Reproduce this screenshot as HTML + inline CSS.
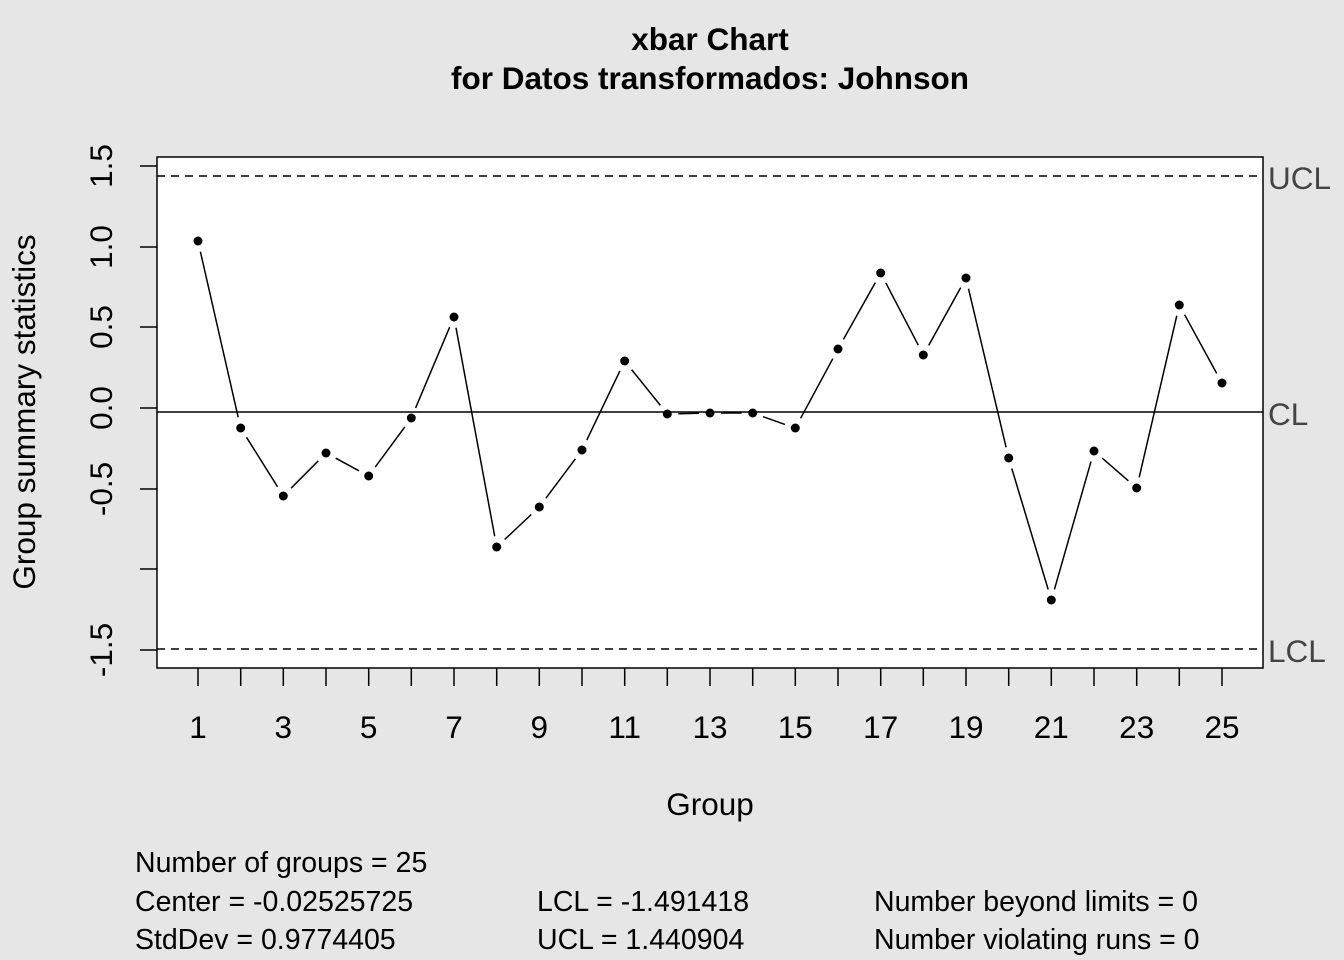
<!DOCTYPE html>
<html><head><meta charset="utf-8"><style>body{margin:0;background:#e6e6e6}svg{display:block}</style></head><body>
<svg width="1344" height="960" xmlns="http://www.w3.org/2000/svg" font-family="Liberation Sans, Arial, sans-serif">
<rect width="1344" height="960" fill="#e6e6e6"/>
<text x="710" y="50" font-size="31.5" font-weight="bold" text-anchor="middle">xbar Chart</text>
<text x="710" y="89" font-size="31.5" font-weight="bold" text-anchor="middle">for Datos transformados: Johnson</text>
<rect x="157" y="157" width="1106" height="511" fill="#fff" stroke="#000" stroke-width="1.5"/>
<g stroke="#000" stroke-width="1.5">
<line x1="157" y1="176" x2="1263" y2="176" stroke-dasharray="8,6"/>
<line x1="157" y1="649" x2="1263" y2="649" stroke-dasharray="8,6"/>
<line x1="157" y1="412" x2="1263" y2="412"/>
</g>
<g fill="#444" font-size="31.5">
<text x="1268" y="189">UCL</text><text x="1268" y="425">CL</text><text x="1268" y="662">LCL</text>
</g>
<g stroke="#000" stroke-width="1.5">
<line x1="140" y1="166" x2="157" y2="166"/><line x1="140" y1="247" x2="157" y2="247"/><line x1="140" y1="327" x2="157" y2="327"/><line x1="140" y1="408" x2="157" y2="408"/><line x1="140" y1="489" x2="157" y2="489"/><line x1="140" y1="569" x2="157" y2="569"/><line x1="140" y1="650" x2="157" y2="650"/>
</g>
<g font-size="31.5" text-anchor="middle">
<text transform="translate(112,166) rotate(-90)">1.5</text>
<text transform="translate(112,247) rotate(-90)">1.0</text>
<text transform="translate(112,327) rotate(-90)">0.5</text>
<text transform="translate(112,408) rotate(-90)">0.0</text>
<text transform="translate(112,489) rotate(-90)">-0.5</text>
<text transform="translate(112,650) rotate(-90)">-1.5</text>
<text transform="translate(35,412) rotate(-90)">Group summary statistics</text>
<text x="710" y="815">Group</text>
<text x="198" y="738">1</text><text x="283.3" y="738">3</text><text x="368.7" y="738">5</text><text x="454" y="738">7</text><text x="539.3" y="738">9</text><text x="624.7" y="738">11</text><text x="710" y="738">13</text><text x="795.3" y="738">15</text><text x="880.7" y="738">17</text><text x="966" y="738">19</text><text x="1051.3" y="738">21</text><text x="1136.7" y="738">23</text><text x="1222" y="738">25</text>
</g>
<g stroke="#000" stroke-width="1.5">
<line x1="198" y1="668" x2="198" y2="686"/><line x1="240.7" y1="668" x2="240.7" y2="686"/><line x1="283.3" y1="668" x2="283.3" y2="686"/><line x1="326" y1="668" x2="326" y2="686"/><line x1="368.7" y1="668" x2="368.7" y2="686"/><line x1="411.3" y1="668" x2="411.3" y2="686"/><line x1="454" y1="668" x2="454" y2="686"/><line x1="496.7" y1="668" x2="496.7" y2="686"/><line x1="539.3" y1="668" x2="539.3" y2="686"/><line x1="582" y1="668" x2="582" y2="686"/><line x1="624.7" y1="668" x2="624.7" y2="686"/><line x1="667.3" y1="668" x2="667.3" y2="686"/><line x1="710" y1="668" x2="710" y2="686"/><line x1="752.7" y1="668" x2="752.7" y2="686"/><line x1="795.3" y1="668" x2="795.3" y2="686"/><line x1="838" y1="668" x2="838" y2="686"/><line x1="880.7" y1="668" x2="880.7" y2="686"/><line x1="923.3" y1="668" x2="923.3" y2="686"/><line x1="966" y1="668" x2="966" y2="686"/><line x1="1008.7" y1="668" x2="1008.7" y2="686"/><line x1="1051.3" y1="668" x2="1051.3" y2="686"/><line x1="1094" y1="668" x2="1094" y2="686"/><line x1="1136.7" y1="668" x2="1136.7" y2="686"/><line x1="1179.3" y1="668" x2="1179.3" y2="686"/><line x1="1222" y1="668" x2="1222" y2="686"/>
<line x1="200.4" y1="251.7" x2="238.2" y2="417.3"/>
<line x1="246.5" y1="437.3" x2="277.5" y2="486.7"/>
<line x1="291.1" y1="488.2" x2="318.3" y2="460.8"/>
<line x1="335.7" y1="458.2" x2="359" y2="470.8"/>
<line x1="375.2" y1="467.1" x2="404.8" y2="426.9"/>
<line x1="415.6" y1="407.9" x2="449.7" y2="327.1"/>
<line x1="456" y1="327.8" x2="494.7" y2="536.2"/>
<line x1="504.7" y1="539.5" x2="531.3" y2="514.5"/>
<line x1="545.9" y1="498.2" x2="575.4" y2="458.8"/>
<line x1="586.8" y1="440.1" x2="619.9" y2="370.9"/>
<line x1="631.6" y1="369.6" x2="660.4" y2="405.4"/>
<line x1="678.3" y1="413.7" x2="699" y2="413.3"/>
<line x1="721" y1="413" x2="741.7" y2="413"/>
<line x1="763.1" y1="416.7" x2="784.9" y2="424.4"/>
<line x1="800.6" y1="418.3" x2="832.8" y2="358.7"/>
<line x1="843.4" y1="339.4" x2="875.3" y2="282.6"/>
<line x1="885.8" y1="282.8" x2="918.3" y2="345.2"/>
<line x1="928.7" y1="345.4" x2="960.7" y2="287.6"/>
<line x1="968.5" y1="288.7" x2="1006.1" y2="447.3"/>
<line x1="1011.8" y1="468.5" x2="1048.2" y2="589.5"/>
<line x1="1054.4" y1="589.4" x2="1091" y2="461.6"/>
<line x1="1102.3" y1="458.2" x2="1128.4" y2="480.8"/>
<line x1="1139.2" y1="477.3" x2="1176.8" y2="315.7"/>
<line x1="1184.6" y1="314.7" x2="1216.7" y2="373.4"/>
</g>
<g fill="#000">
<circle cx="198" cy="241" r="4.5"/><circle cx="240.7" cy="428" r="4.5"/><circle cx="283.3" cy="496" r="4.5"/><circle cx="326" cy="453" r="4.5"/><circle cx="368.7" cy="476" r="4.5"/><circle cx="411.3" cy="418" r="4.5"/><circle cx="454" cy="317" r="4.5"/><circle cx="496.7" cy="547" r="4.5"/><circle cx="539.3" cy="507" r="4.5"/><circle cx="582" cy="450" r="4.5"/><circle cx="624.7" cy="361" r="4.5"/><circle cx="667.3" cy="414" r="4.5"/><circle cx="710" cy="413" r="4.5"/><circle cx="752.7" cy="413" r="4.5"/><circle cx="795.3" cy="428" r="4.5"/><circle cx="838" cy="349" r="4.5"/><circle cx="880.7" cy="273" r="4.5"/><circle cx="923.3" cy="355" r="4.5"/><circle cx="966" cy="278" r="4.5"/><circle cx="1008.7" cy="458" r="4.5"/><circle cx="1051.3" cy="600" r="4.5"/><circle cx="1094" cy="451" r="4.5"/><circle cx="1136.7" cy="488" r="4.5"/><circle cx="1179.3" cy="305" r="4.5"/><circle cx="1222" cy="383" r="4.5"/>
</g>
<g font-size="28.5">
<text x="135" y="872">Number of groups = 25</text>
<text x="135" y="911">Center = -0.02525725</text>
<text x="135" y="949">StdDev = 0.9774405</text>
<text x="537" y="911">LCL = -1.491418</text>
<text x="537" y="949">UCL = 1.440904</text>
<text x="874" y="911">Number beyond limits = 0</text>
<text x="874" y="949">Number violating runs = 0</text>
</g>
</svg>
</body></html>
